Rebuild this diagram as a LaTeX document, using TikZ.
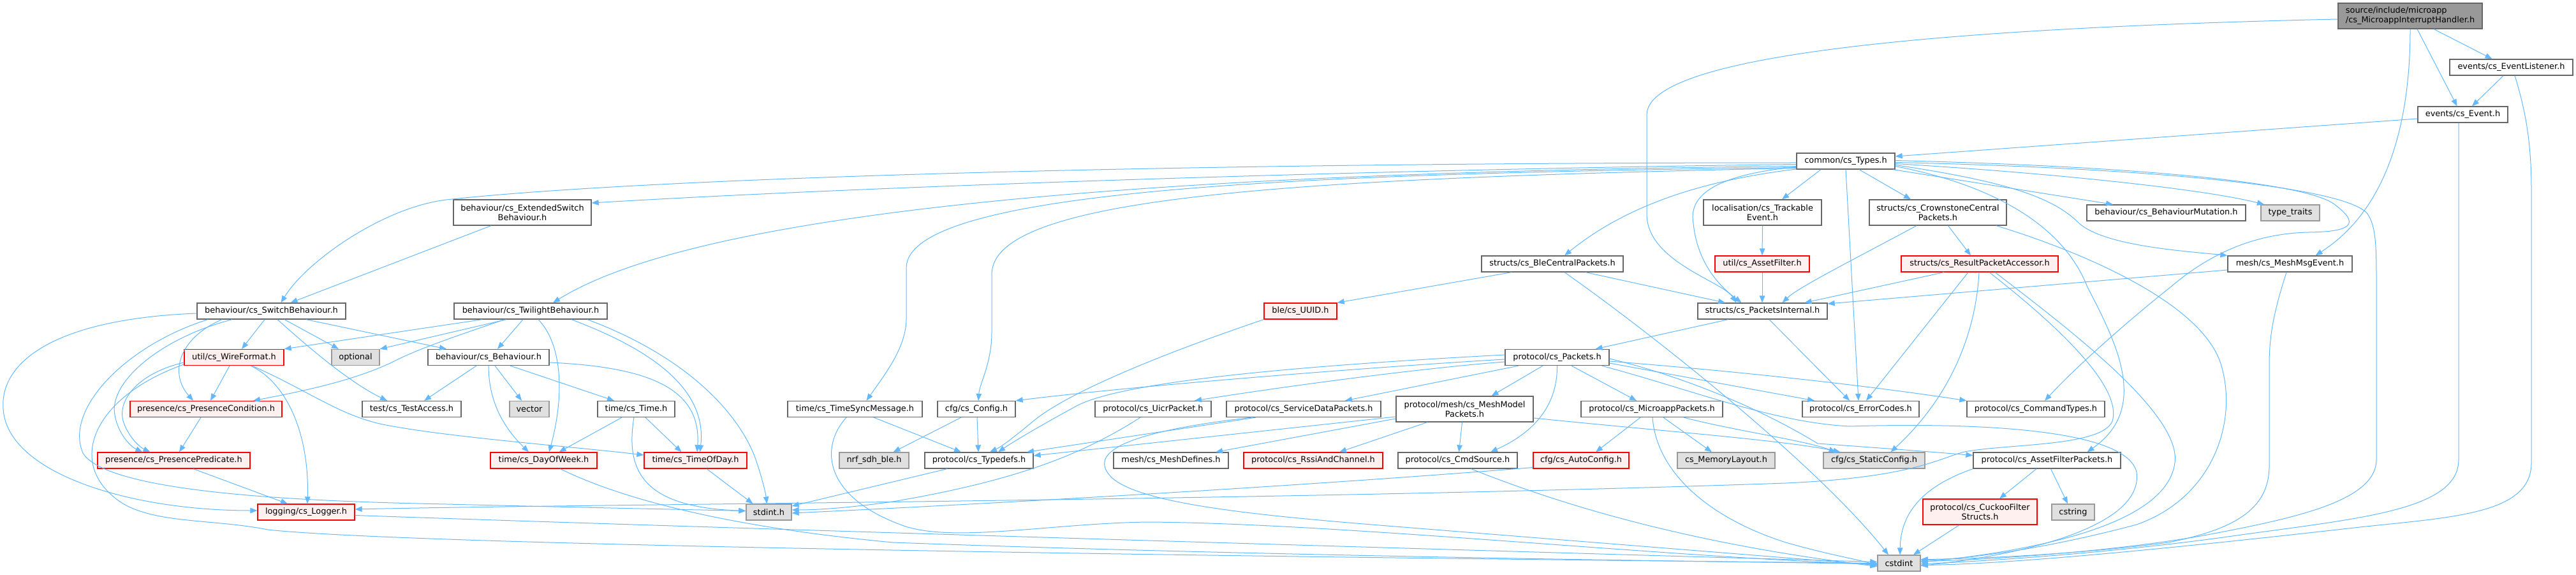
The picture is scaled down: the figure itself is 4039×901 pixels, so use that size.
\documentclass[tikz,border=0pt]{standalone}
\usepackage{fontspec}
\usetikzlibrary{arrows.meta}
\newfontfamily\dvs{DejaVu Sans}
\definecolor{edgec}{HTML}{63B8FF}
\definecolor{bordc}{HTML}{666666}
\definecolor{redfill}{HTML}{FFF0F0}
\definecolor{redbord}{HTML}{FF0000}
\definecolor{extfill}{HTML}{E0E0E0}
\definecolor{extbord}{HTML}{999999}
\definecolor{rootfill}{HTML}{999999}
\tikzset{
  nb/.style={draw=bordc, fill=white, line width=1.3pt, inner sep=0pt, align=center,
             font={\dvs\fontsize{12.9}{15}\selectfont}},
  nr/.style={nb, draw=redbord, fill=redfill},
  ng/.style={nb, draw=extbord, fill=extfill},
  nroot/.style={nb, draw=bordc, fill=rootfill, align=left},
  e/.style={draw=edgec, line width=1pt, -{Triangle[length=11pt,width=8.5pt]}},
}
\newcommand\nd[7]{\node[#1, minimum width=#5pt, minimum height=#6pt] (#2) at (#3,#4) {#7};}
\begin{document}
\begin{tikzpicture}[x=1pt,y=-1pt]
\useasboundingbox (0,0) rectangle (4039,901);
% nodes
\nd{nroot}{root}{3779}{25}{226}{40}{source/include/microapp\\/cs\_MicroappInterruptHandler.h}
\nd{nb}{evl}{3937.5}{105.5}{193}{25}{events/cs\_EventListener.h}
\nd{nb}{ev}{3861.5}{179.5}{141}{25}{events/cs\_Event.h}
\nd{nb}{types}{2894}{252.5}{154}{25}{common/cs\_Types.h}
\nd{nb}{extsw}{819}{333}{216}{40}{behaviour/cs\_ExtendedSwitch\\Behaviour.h}
\nd{nb}{track}{2763.5}{333}{185}{40}{localisation/cs\_Trackable\\Event.h}
\nd{nb}{crown}{3038.5}{333}{215}{40}{structs/cs\_CrownstoneCentral\\Packets.h}
\nd{nb}{bmut}{3396.5}{333.5}{249}{25}{behaviour/cs\_BehaviourMutation.h}
\nd{ng}{tt}{3591}{333.5}{92}{25}{type\_traits}
\nd{nb}{blec}{2434}{413.5}{222}{25}{structs/cs\_BleCentralPackets.h}
\nd{nr}{assetf}{2763}{413.5}{148}{25}{util/cs\_AssetFilter.h}
\nd{nr}{resacc}{3104}{413.5}{246}{25}{structs/cs\_ResultPacketAccessor.h}
\nd{nb}{mme}{3590.5}{413.5}{195}{25}{mesh/cs\_MeshMsgEvent.h}
\nd{nb}{swb}{425.5}{487.5}{233}{25}{behaviour/cs\_SwitchBehaviour.h}
\nd{nb}{twi}{832}{487.5}{240}{25}{behaviour/cs\_TwilightBehaviour.h}
\nd{nr}{uuid}{2039}{487.5}{114}{25}{ble/cs\_UUID.h}
\nd{nb}{pint}{2763.5}{487.5}{203}{25}{structs/cs\_PacketsInternal.h}
\nd{nr}{wire}{367}{560}{156}{25}{util/cs\_WireFormat.h}
\nd{ng}{opt}{557.5}{560}{75}{25}{optional}
\nd{nb}{beh}{766}{560}{190}{25}{behaviour/cs\_Behaviour.h}
\nd{nb}{pkt}{2441.5}{560}{163}{25}{protocol/cs\_Packets.h}
\nd{nr}{pcond}{323}{641}{238}{25}{presence/cs\_PresenceCondition.h}
\nd{nb}{tacc}{645.5}{641}{155}{25}{test/cs\_TestAccess.h}
\nd{ng}{vec}{830}{641}{62}{25}{vector}
\nd{nb}{tm}{997.5}{641}{121}{25}{time/cs\_Time.h}
\nd{nb}{tsm}{1340.5}{641}{211}{25}{time/cs\_TimeSyncMessage.h}
\nd{nb}{cfg}{1531}{641}{122}{25}{cfg/cs\_Config.h}
\nd{nb}{uicr}{1808}{641}{182}{25}{protocol/cs\_UicrPacket.h}
\nd{nb}{sdp}{2044}{641}{242}{25}{protocol/cs\_ServiceDataPackets.h}
\nd{nb}{mmp}{2296.5}{641}{215}{40}{protocol/mesh/cs\_MeshModel\\Packets.h}
\nd{nb}{micro}{2590}{641}{222}{25}{protocol/cs\_MicroappPackets.h}
\nd{nb}{err}{2917.5}{641}{183}{25}{protocol/cs\_ErrorCodes.h}
\nd{nb}{cmdt}{3192}{641}{216}{25}{protocol/cs\_CommandTypes.h}
\nd{nr}{ppred}{272.5}{721.5}{239}{25}{presence/cs\_PresencePredicate.h}
\nd{nr}{dow}{852.5}{721.5}{167}{25}{time/cs\_DayOfWeek.h}
\nd{nr}{tod}{1090.5}{721.5}{161}{25}{time/cs\_TimeOfDay.h}
\nd{ng}{nrf}{1370.5}{721.5}{109}{25}{nrf\_sdh\_ble.h}
\nd{nb}{tdef}{1535}{721.5}{170}{25}{protocol/cs\_Typedefs.h}
\nd{nb}{mdef}{1836}{721.5}{180}{25}{mesh/cs\_MeshDefines.h}
\nd{nr}{rssi}{2059}{721.5}{218}{25}{protocol/cs\_RssiAndChannel.h}
\nd{nb}{cmds}{2285.5}{721.5}{187}{25}{protocol/cs\_CmdSource.h}
\nd{nr}{acfg}{2479}{721.5}{150}{25}{cfg/cs\_AutoConfig.h}
\nd{ng}{meml}{2706.5}{721.5}{153}{25}{cs\_MemoryLayout.h}
\nd{ng}{scfg}{2938.5}{721.5}{159}{25}{cfg/cs\_StaticConfig.h}
\nd{nb}{afp}{3209.5}{721.5}{231}{25}{protocol/cs\_AssetFilterPackets.h}
\nd{nr}{log}{480}{802.5}{152}{25}{logging/cs\_Logger.h}
\nd{ng}{stdint}{1205.5}{802.5}{71}{25}{stdint.h}
\nd{nr}{cuckoo}{3104.5}{802}{179}{40}{protocol/cs\_CuckooFilter\\Structs.h}
\nd{ng}{cstring}{3250.5}{802.5}{67}{25}{cstring}
\nd{ng}{cstdint}{2977.5}{882.5}{67}{25}{cstdint}
% edges: root
\draw[e] ([xshift=37pt]root.south) -- ([xshift=-30pt]evl.north);
\draw[e] ([xshift=11pt]root.south) -- ([xshift=-9pt]ev.north);
\draw[e] (root.south) .. controls (3779,200) and (3740,330) .. ([xshift=40pt]mme.north);
\draw[e] ([yshift=-5pt]root.west) .. controls (3000,45) and (2582,90) .. (2582,180) -- (2582,335) .. controls (2582,410) and (2700,440) .. ([xshift=-41pt]pint.north);
% events
\draw[e] ([yshift=-6.5pt]ev.west) -- ([yshift=7.5pt]types.east);
\draw[e] ([xshift=-6.5pt]ev.south) -- (3855,720) .. controls (3855,800) and (3700,812) .. (3500,840) .. controls (3300,868) and (3100,880) .. ([yshift=-1pt]cstdint.east);
\draw[e] ([xshift=-12.5pt]evl.south) -- ([xshift=14.5pt]ev.north);
\draw[e] ([xshift=5.5pt]evl.south) .. controls (3962,180) and (3969,230) .. (3969,300) -- (3969,725) .. controls (3969,805) and (3850,810) .. (3700,826) .. controls (3400,860) and (3150,884) .. ([yshift=-3pt]cstdint.east);
% types
\draw[e] ([yshift=-2.5pt]types.west) .. controls (1800,255) and (1000,280) .. (700,313) .. controls (600,325) and (480,410) .. ([xshift=15pt]swb.north);
\draw[e] ([yshift=-5pt]types.west) .. controls (2200,265) and (1400,290) .. ([yshift=15pt]extsw.east);
\draw[e] ([yshift=-8pt]types.west) .. controls (1800,270) and (1100,330) .. ([xshift=35pt]twi.north);
\draw[e] ([yshift=-10pt]types.west) .. controls (2000,272) and (1421,300) .. (1421,420) -- (1421,500) .. controls (1421,545) and (1385,590) .. ([xshift=18pt]tsm.north);
\draw[e] ([yshift=-11pt]types.west) .. controls (2000,280) and (1555,310) .. (1555,430) -- (1555,520) .. controls (1555,570) and (1536,600) .. ([xshift=3pt]cfg.north);
\draw[e] ([yshift=-12.5pt]types.west) .. controls (2650,285) and (2540,330) .. ([xshift=19pt]blec.north);
\draw[e] ([xshift=-39pt]types.south) -- ([xshift=30.5pt]track.north);
\draw[e] ([yshift=-9pt]types.west) .. controls (2680,275) and (2648,310) .. (2655,350) .. controls (2662,420) and (2705,455) .. ([xshift=-33pt]pint.north);
\draw[e] ([xshift=21pt]types.south) -- ([xshift=-42.5pt]crown.north);
\draw[e] (types.south) -- ([xshift=-3.5pt]err.north);
\draw[e] ([xshift=74pt]types.south) -- ([xshift=-83.5pt]bmut.north);
\draw[e] ([yshift=-4pt]types.east) .. controls (3200,270) and (3450,295) .. ([xshift=-41pt]tt.north);
\draw[e] ([yshift=-6pt]types.east) .. controls (3150,285) and (3220,310) .. (3260,350) .. controls (3300,385) and (3420,393) .. (mme.north west);
\draw[e] ([yshift=1pt]types.east) .. controls (3400,262) and (3620,290) .. (3660,320) .. controls (3700,350) and (3690,363) .. (3620,364) .. controls (3520,366) and (3450,410) .. (3403,450) .. controls (3340,500) and (3260,570) .. ([xshift=14pt]cmdt.north);
\draw[e] ([yshift=-2pt]types.east) .. controls (3400,264) and (3680,295) .. (3712,335) .. controls (3726,355) and (3726,390) .. (3726,450) -- (3726,720) .. controls (3726,785) and (3600,812) .. (3450,840) .. controls (3300,866) and (3100,878) .. ([yshift=3pt]cstdint.east);
\draw[e] ([yshift=-8pt]types.east) .. controls (3100,285) and (3230,340) .. (3273,450) .. controls (3320,540) and (3370,640) .. ([xshift=63pt]afp.north);
% second level
\draw[e] (track.south) -- (assetf.north);
\draw[e] (assetf.south) -- ([xshift=-0.5pt]pint.north);
\draw[e] ([xshift=16pt]crown.south) -- ([xshift=-14pt]resacc.north);
\draw[e] ([xshift=-33.5pt]crown.south) .. controls (2900,410) and (2820,450) .. ([xshift=31pt]pint.north);
\draw[e] ([xshift=91.5pt]crown.south) .. controls (3250,390) and (3450,470) .. (3482,570) .. controls (3510,660) and (3470,780) .. (3350,822) .. controls (3200,862) and (3080,876) .. ([yshift=4.5pt]cstdint.east);
\draw[e] ([xshift=-56pt]resacc.south) -- ([xshift=66pt]pint.north);
\draw[e] ([xshift=-18pt]resacc.south) -- ([xshift=8.5pt]err.north);
\draw[e] ([xshift=-1pt]resacc.south) .. controls (3098,520) and (3060,620) .. ([xshift=26pt]scfg.north);
\draw[e] ([xshift=15pt]resacc.south) .. controls (3200,490) and (3330,600) .. (3312,660) .. controls (3295,700) and (3150,695) .. (3080,708) .. controls (3040,718) and (3000,748) .. (2800,757) .. controls (2000,785) and (900,790) .. ([yshift=4.5pt]log.east);
\draw[e] ([xshift=24pt]resacc.south) .. controls (3250,520) and (3420,650) .. (3410,725) .. controls (3398,820) and (3200,862) .. ([yshift=1.5pt]cstdint.east);
\draw[e] ([yshift=-9.5pt]mme.west) -- ([yshift=11.5pt]pint.east);
\draw[e] ([xshift=-5.5pt]mme.south) .. controls (3568,480) and (3558,520) .. (3558,570) -- (3558,730) .. controls (3558,800) and (3500,830) .. (3400,850) .. controls (3250,870) and (3080,876) .. ([yshift=6pt]cstdint.east);
\draw[e] ([xshift=-49pt]extsw.south) -- ([xshift=30pt]swb.north);
% switch behaviour
\draw[e] ([yshift=-3.5pt]swb.west) .. controls (80,500) and (0,570) .. (5,640) .. controls (10,740) and (200,800) .. ([yshift=2.5pt]log.west);
\draw[e] ([xshift=-99.5pt]swb.south) .. controls (200,540) and (100,640) .. (130,710) .. controls (170,775) and (500,786) .. (700,790) .. controls (900,795) and (1100,799) .. ([yshift=2pt]stdint.west);
\draw[e] ([xshift=-77.5pt]swb.south) .. controls (280,530) and (265,585) .. ([xshift=-20pt]pcond.north);
\draw[e] ([xshift=-61.5pt]swb.south) .. controls (250,530) and (170,600) .. (180,650) .. controls (185,680) and (205,700) .. ([xshift=-49pt]ppred.north);
\draw[e] ([xshift=-10.5pt]swb.south) -- ([xshift=12pt]wire.north);
\draw[e] ([xshift=9.5pt]swb.south) .. controls (490,550) and (550,600) .. ([xshift=-38.5pt]tacc.north);
\draw[e] ([xshift=20.5pt]swb.south) -- ([xshift=-26.5pt]opt.north);
\draw[e] ([xshift=54.5pt]swb.south) -- ([xshift=-66pt]beh.north);
% wire format
\draw[e] ([yshift=-8pt]wire.west) .. controls (215,585) and (180,630) .. (195,665) .. controls (205,690) and (222,702) .. ([xshift=-37pt]ppred.north);
\draw[e] ([yshift=-11pt]wire.west) .. controls (150,620) and (105,720) .. (180,780) .. controls (230,822) and (330,812) .. (420,830) .. controls (700,860) and (2500,878) .. (cstdint.west);
\draw[e] ([xshift=-7pt]wire.south) -- ([xshift=7pt]pcond.north);
\draw[e] ([xshift=26pt]wire.south) .. controls (450,600) and (485,680) .. ([xshift=2pt]log.north);
\draw[e] ([xshift=28pt]wire.south) .. controls (480,610) and (530,650) .. (600,665) .. controls (700,685) and (900,700) .. ([yshift=8.5pt]tod.west);
\draw[e] ([xshift=-8pt]pcond.south) -- ([xshift=8.5pt]ppred.north);
\draw[e] ([xshift=30.5pt]ppred.south) -- ([xshift=-29pt]log.north);
\draw[e] ([yshift=-5pt]log.east) .. controls (1200,830) and (2500,868) .. ([yshift=2pt]cstdint.west);
% twilight
\draw[e] ([xshift=-76pt]twi.south) -- (wire.north east);
\draw[e] ([xshift=-38pt]twi.south) -- (opt.north east);
\draw[e] ([xshift=-41pt]twi.south) .. controls (720,525) and (660,545) .. (620,565) .. controls (560,595) and (480,612) .. ([xshift=74pt]pcond.north);
\draw[e] ([xshift=-12pt]twi.south) -- ([xshift=14pt]beh.north);
\draw[e] ([xshift=12pt]twi.south) .. controls (882,540) and (885,620) .. ([xshift=8.5pt]dow.north);
\draw[e] ([xshift=64pt]twi.south) .. controls (1000,540) and (1110,600) .. ([xshift=7pt]tod.north);
\draw[e] ([xshift=89pt]twi.south) .. controls (1080,560) and (1160,650) .. (1185,720) .. controls (1195,750) and (1200,770) .. ([xshift=-3pt]stdint.north);
% behaviour
\draw[e] ([xshift=-19pt]beh.south) -- ([xshift=19.5pt]tacc.north);
\draw[e] (beh.south) .. controls (766,640) and (800,680) .. ([xshift=-23.5pt]dow.north);
\draw[e] ([xshift=10pt]beh.south) -- ([xshift=-12pt]vec.north);
\draw[e] ([xshift=34pt]beh.south) -- ([xshift=-34.5pt]tm.north);
\draw[e] ([yshift=-8pt]beh.east) .. controls (1020,575) and (1100,610) .. ([xshift=2.5pt]tod.north);
% time
\draw[e] ([xshift=-22.5pt]tm.south) -- ([xshift=24pt]dow.north);
\draw[e] ([xshift=14.5pt]tm.south) -- ([xshift=-22pt]tod.north);
\draw[e] ([xshift=-3.5pt]tm.south) .. controls (980,740) and (1010,795) .. ([yshift=2pt]stdint.west);
\draw[e] ([xshift=17.5pt]tod.south) -- ([xshift=-25pt]stdint.north);
\draw[e] ([xshift=26pt]dow.south) .. controls (950,770) and (1100,822) .. (1400,850) .. controls (2000,872) and (2700,880) .. ([yshift=-1pt]cstdint.west);
\draw[e] ([xshift=29.5pt]tsm.south) -- ([xshift=-28pt]tdef.north);
\draw[e] ([xshift=-13.5pt]tsm.south) .. controls (1285,700) and (1290,780) .. (1420,825) .. controls (1500,850) and (1650,820) .. (1800,818) .. controls (2100,820) and (2600,872) .. ([yshift=-2pt]cstdint.west);
% config, typedefs
\draw[e] ([xshift=-24pt]cfg.south) -- ([xshift=30pt]nrf.north);
\draw[e] ([xshift=1pt]cfg.south) -- ([xshift=-1pt]tdef.north);
\draw[e] ([xshift=-50pt]tdef.south) -- ([yshift=9.5pt]stdint.east);
\draw[e] ([xshift=-20pt]uicr.south) .. controls (1700,710) and (1600,752) .. (1400,786) .. controls (1330,796) and (1280,799) .. ([yshift=3.5pt]stdint.east);
\draw[e] (uuid.south west) .. controls (1850,545) and (1680,610) .. (1620,660) .. controls (1590,685) and (1570,700) .. ([xshift=17pt]tdef.north);
% ble central
\draw[e] ([xshift=-64pt]blec.south) -- (uuid.north east);
\draw[e] ([xshift=52pt]blec.south) -- ([xshift=-58.5pt]pint.north);
\draw[e] ([xshift=19pt]blec.south) .. controls (2600,530) and (2850,730) .. ([xshift=-16.5pt]cstdint.north);
% service data
\draw[e] ([xshift=-75pt]sdp.south) -- ([xshift=75pt]tdef.north);
\draw[e] ([xshift=-82pt]sdp.south) .. controls (1780,675) and (1705,705) .. (1740,745) .. controls (1780,792) and (2000,810) .. (2200,826) .. controls (2500,850) and (2800,874) .. ([yshift=-3pt]cstdint.west);
% packets
\draw[e] ([yshift=4pt]pkt.west) .. controls (2000,575) and (1760,600) .. (1690,635) .. controls (1640,662) and (1592,690) .. ([xshift=30pt]tdef.north);
\draw[e] ([yshift=-3pt]pkt.west) .. controls (2200,572) and (1800,602) .. (cfg.north east);
\draw[e] ([yshift=-7pt]pkt.west) .. controls (2250,575) and (2050,600) .. ([xshift=65pt]uicr.north);
\draw[e] ([xshift=-60.5pt]pkt.south) -- ([xshift=65pt]sdp.north);
\draw[e] ([xshift=-22.5pt]pkt.south) -- ([xshift=42pt]mmp.north);
\draw[e] (pkt.south) .. controls (2442,640) and (2400,680) .. ([xshift=51.5pt]cmds.north);
\draw[e] ([xshift=22.5pt]pkt.south) -- ([xshift=-24pt]micro.north);
\draw[e] ([yshift=-6pt]pkt.east) .. controls (2700,580) and (2900,600) .. (cmdt.north west);
\draw[e] ([yshift=-9pt]pkt.east) -- ([xshift=-72.5pt]err.north);
\draw[e] ([xshift=70pt]pkt.south) .. controls (2650,610) and (2780,662) .. (2900,668) .. controls (3100,662) and (3335,672) .. (3350,740) .. controls (3362,830) and (3150,872) .. ([yshift=-4pt]cstdint.east);
\draw[e] ([yshift=-2pt]pkt.east) .. controls (2640,590) and (2760,640) .. (2850,695) .. controls (2950,702) and (3040,709) .. ([yshift=8pt]afp.west);
% mesh model packets
\draw[e] ([yshift=-12pt]mmp.west) -- ([yshift=7.5pt]tdef.east);
\draw[e] ([yshift=-15pt]mmp.west) -- ([xshift=70pt]mdef.north);
\draw[e] ([xshift=-58.5pt]mmp.south) -- ([xshift=41pt]rssi.north);
\draw[e] ([xshift=-4pt]mmp.south) -- ([xshift=2pt]cmds.north);
\draw[e] ([yshift=-14pt]mmp.east) .. controls (2600,675) and (2800,690) .. ([xshift=-53pt]scfg.north);
% microapp packets
\draw[e] ([xshift=-18pt]micro.south) -- ([xshift=23pt]acfg.north);
\draw[e] ([xshift=18pt]micro.south) -- ([xshift=-22.5pt]meml.north);
\draw[e] ([xshift=1pt]micro.south) .. controls (2597,740) and (2680,812) .. (2800,850) .. controls (2870,870) and (2920,878) .. ([yshift=-4pt]cstdint.west);
\draw[e] ([xshift=50pt]micro.south) .. controls (2720,675) and (2830,690) .. ([xshift=-60pt]scfg.north);
% cmd source, auto config
\draw[e] ([xshift=21pt]cmds.south) .. controls (2450,792) and (2650,852) .. ([yshift=-5pt]cstdint.west);
\draw[e] ([yshift=-11pt]acfg.west) .. controls (2000,765) and (1500,792) .. ([yshift=-1.5pt]stdint.east);
% asset filter packets
\draw[e] ([xshift=-16.5pt]afp.south) -- ([xshift=30.5pt]cuckoo.north);
\draw[e] ([xshift=6pt]afp.south) -- ([xshift=-8.5pt]cstring.north);
\draw[e] (afp.south west) .. controls (3020,760) and (2980,800) .. ([xshift=1.5pt]cstdint.north);
\draw[e] ([xshift=-32.5pt]cuckoo.south) -- ([xshift=22.5pt]cstdint.north);
% packets internal
\draw[e] ([xshift=-54pt]pint.south) -- ([xshift=60pt]pkt.north);
\draw[e] ([xshift=10.5pt]pint.south) -- ([xshift=-17.5pt]err.north);
\end{tikzpicture}
\end{document}
